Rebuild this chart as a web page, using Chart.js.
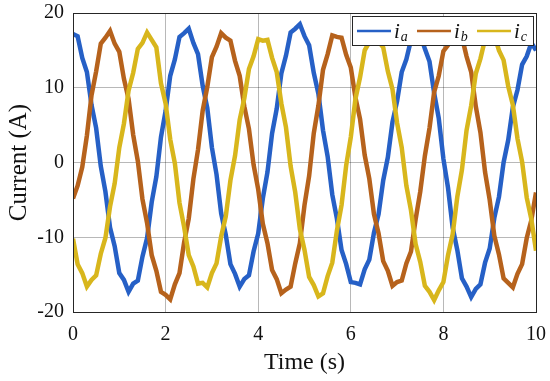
<!DOCTYPE html>
<html>
<head>
<meta charset="utf-8">
<script src="https://cdn.jsdelivr.net/npm/chart.js@4.4.0/dist/chart.umd.min.js"></script>
<style>
  html, body { margin: 0; padding: 0; background: #fff; }
  #wrap { width: 550px; height: 381px; position: relative; }
</style>
</head>
<body>
<div id="wrap"><canvas id="chart"></canvas></div>
<script>
// sample times (s)
const timeS = [
  0.0, 0.1, 0.2, 0.3, 0.4, 0.5, 0.6, 0.7, 0.8, 0.9,
  1.0, 1.1, 1.2, 1.3, 1.4, 1.5, 1.6, 1.7, 1.8, 1.9,
  2.0, 2.1, 2.2, 2.3, 2.4, 2.5, 2.6, 2.7, 2.8, 2.9,
  3.0, 3.1, 3.2, 3.3, 3.4, 3.5, 3.6, 3.7, 3.8, 3.9,
  4.0, 4.1, 4.2, 4.3, 4.4, 4.5, 4.6, 4.7, 4.8, 4.9,
  5.0, 5.1, 5.2, 5.3, 5.4, 5.5, 5.6, 5.7, 5.8, 5.9,
  6.0, 6.1, 6.2, 6.3, 6.4, 6.5, 6.6, 6.7, 6.8, 6.9,
  7.0, 7.1, 7.2, 7.3, 7.4, 7.5, 7.6, 7.7, 7.8, 7.9,
  8.0, 8.1, 8.2, 8.3, 8.4, 8.5, 8.6, 8.7, 8.8, 8.9,
  9.0, 9.1, 9.2, 9.3, 9.4, 9.5, 9.6, 9.7, 9.8, 9.9,
  10.0
]

// phase currents (A)
const iA = [
  17.2, 16.9, 14.0, 12.1, 7.7, 4.6, -0.5, -3.9, -8.7, -11.2,
  -14.8, -15.7, -17.3, -16.2, -15.8, -12.6, -10.1, -5.3, -1.9, 3.4,
  6.9, 11.6, 13.8, 16.8, 17.3, 17.9, 16.0, 14.5, 10.3, 7.3,
  2.0, -1.6, -6.8, -9.7, -13.6, -14.9, -16.6, -15.6, -15.1, -11.9,
  -9.5, -4.8, -1.3, 3.9, 7.2, 11.9, 14.3, 17.4, 17.9, 18.5,
  16.9, 15.7, 12.0, 9.2, 4.3, 0.8, -4.3, -7.5, -11.7, -13.6,
  -16.0, -16.1, -16.3, -14.3, -13.0, -9.4, -6.9, -2.4, 0.7, 5.4,
  8.2, 12.1, 13.8, 16.4, 16.6, 17.1, 15.2, 13.5, 9.3, 5.9,
  0.5, -3.4, -8.7, -11.7, -15.5, -16.6, -18.0, -16.9, -16.3, -13.4,
  -11.5, -7.4, -4.6, 0.0, 3.0, 7.4, 9.7, 13.1, 14.2, 16.0,
  15.0
]
const iB = [
  -4.8, -3.1, -0.6, 3.6, 9.0, 12.2, 15.9, 16.7, 17.6, 15.9,
  14.8, 11.2, 8.5, 3.7, 0.2, -4.9, -8.1, -12.4, -14.5, -17.3,
  -17.7, -18.3, -16.3, -14.8, -10.7, -7.5, -2.2, 1.7, 6.9, 10.1,
  14.1, 15.5, 17.3, 16.7, 16.3, 13.6, 11.6, 7.5, 4.5, -0.3,
  -3.6, -8.2, -10.8, -14.4, -15.6, -17.5, -17.0, -16.6, -13.5, -10.8,
  -5.7, -1.8, 3.9, 7.6, 12.4, 14.5, 17.0, 16.8, 16.7, 14.4,
  12.7, 8.7, 5.8, 1.0, -2.2, -6.9, -9.5, -13.2, -14.5, -16.5,
  -16.0, -15.8, -13.5, -11.9, -7.6, -3.9, 0.9, 4.6, 9.4, 11.6,
  14.9, 15.7, 17.1, 16.7, 16.8, 14.2, 12.1, 7.5, 4.0, -1.3,
  -5.0, -9.8, -12.3, -15.5, -16.1, -16.7, -14.9, -13.6, -10.1, -7.7,
  -4.0
]
const iC = [
  -10.2, -13.6, -14.8, -16.6, -15.7, -15.1, -12.2, -10.1, -5.9, -2.8,
  2.0, 5.2, 9.6, 12.0, 15.2, 16.0, 17.4, 16.4, 15.4, 10.6,
  7.9, 3.1, -0.1, -5.4, -8.6, -12.4, -13.9, -16.2, -16.1, -16.7,
  -14.8, -13.5, -9.9, -7.2, -2.4, 0.9, 5.7, 8.6, 12.5, 14.2,
  16.5, 16.3, 16.4, 14.0, 12.1, 7.9, 4.7, -0.5, -4.0, -8.9,
  -11.7, -15.3, -16.4, -17.9, -17.5, -15.2, -13.4, -9.1, -5.7, -0.4,
  3.4, 8.5, 11.4, 15.0, 16.1, 17.3, 16.2, 15.4, 12.2, 9.8,
  5.3, 2.0, -3.1, -6.4, -10.9, -13.3, -16.5, -17.3, -18.4, -17.1,
  -16.0, -12.4, -9.6, -4.6, -1.0, 4.3, 7.6, 11.9, 13.9, 16.5,
  16.7, 17.0, 15.0, 13.7, 10.2, 7.7, 3.2, 0.1, -4.7, -7.6,
  -11.8
]

const xTicks = [0, 2, 4, 6, 8, 10]
const yTicks = [-20, -10, 0, 10, 20]
const seriesSubs = ['a', 'b', 'c']

const colors = {
  a: '#2660c6',
  b: '#b6621c',
  c: '#d8b61c'
}
const serif = "'Liberation Serif', 'Times New Roman', serif"
const inkColor = '#111111'

const toPoints = (vals) => vals.map((v, i) => ({x: timeS[i], y: v}))

// box round the axes, MATLAB style
const framePlugin = {
  id: 'frame',
  afterDatasetsDraw(chart) {
    const {ctx, chartArea: a} = chart
    ctx.save()
    ctx.strokeStyle = '#262626'
    ctx.lineWidth = 1
    ctx.strokeRect(Math.round(a.left) + 0.5, Math.round(a.top) + 0.5,
      Math.round(a.right - a.left), Math.round(a.bottom - a.top))
    ctx.restore()
  }
}

// legend with italic i and subscript letter
const legendPlugin = {
  id: 'subLegend',
  afterDraw(chart) {
    const {ctx, chartArea: a} = chart
    const w = 181, h = 29
    const x0 = Math.round(a.right) - 3 - w
    const y0 = Math.round(a.top) + 3
    ctx.save()
    ctx.fillStyle = '#ffffff'
    ctx.fillRect(x0, y0, w, h)
    ctx.strokeStyle = '#262626'
    ctx.lineWidth = 1
    ctx.strokeRect(x0 + 0.5, y0 + 0.5, w, h)
    seriesSubs.forEach((s, k) => {
      const lx = x0 + 5 + 60 * k
      const ly = y0 + 15
      ctx.strokeStyle = colors[s]
      ctx.lineWidth = 2.5
      ctx.beginPath()
      ctx.moveTo(lx, ly)
      ctx.lineTo(lx + 34, ly)
      ctx.stroke()
      ctx.fillStyle = inkColor
      ctx.textBaseline = 'alphabetic'
      ctx.font = `italic 21px ${serif}`
      ctx.fillText('i', lx + 37, y0 + 22)
      const iw = ctx.measureText('i').width
      ctx.font = `italic 14px ${serif}`
      ctx.fillText(s, lx + 37 + iw + 1, y0 + 25)
    })
    ctx.restore()
  }
}

new Chart(document.getElementById('chart'), {
  type: 'line',
  data: {
    datasets: seriesSubs.map((s, k) => ({
      label: 'i_' + s,
      data: toPoints([iA, iB, iC][k]),
      borderColor: colors[s],
      backgroundColor: colors[s],
      borderWidth: 4.5,
      pointRadius: 0,
      tension: 0,
      order: 3 - k
    }))
  },
  options: {
    responsive: true,
    maintainAspectRatio: false,
    animation: false,
    events: [],
    layout: {
      padding: {top: 13, right: 14, left: 0, bottom: 0}
    },
    plugins: {
      legend: {display: false},
      tooltip: {enabled: false}
    },
    scales: {
      x: {
        type: 'linear',
        min: 0,
        max: 10,
        afterBuildTicks: (scale) => {
          scale.ticks = xTicks.map(v => ({value: v}))
        },
        afterFit: (scale) => {
          scale.height = 69
          scale.paddingLeft = 0
          scale.paddingRight = 0
        },
        ticks: {
          color: inkColor,
          font: {family: serif, size: 20},
          padding: 11,
          maxRotation: 0
        },
        grid: {
          color: 'rgba(0, 0, 0, 0.28)',
          drawTicks: false
        },
        border: {color: '#262626'},
        title: {
          display: true,
          text: 'Time (s)',
          color: inkColor,
          font: {family: serif, size: 24},
          padding: {top: 0}
        }
      },
      y: {
        type: 'linear',
        min: -20,
        max: 20,
        afterBuildTicks: (scale) => {
          scale.ticks = yTicks.map(v => ({value: v}))
        },
        afterFit: (scale) => {
          scale.width = 73
          scale.paddingTop = 0
          scale.paddingBottom = 0
        },
        ticks: {
          color: inkColor,
          font: {family: serif, size: 20},
          padding: 9
        },
        grid: {
          color: 'rgba(0, 0, 0, 0.28)',
          drawTicks: false
        },
        border: {color: '#262626'},
        title: {
          display: true,
          text: 'Current (A)',
          color: inkColor,
          font: {family: serif, size: 25},
          padding: {bottom: 0}
        }
      }
    }
  },
  plugins: [framePlugin, legendPlugin]
})
</script>
</body>
</html>
